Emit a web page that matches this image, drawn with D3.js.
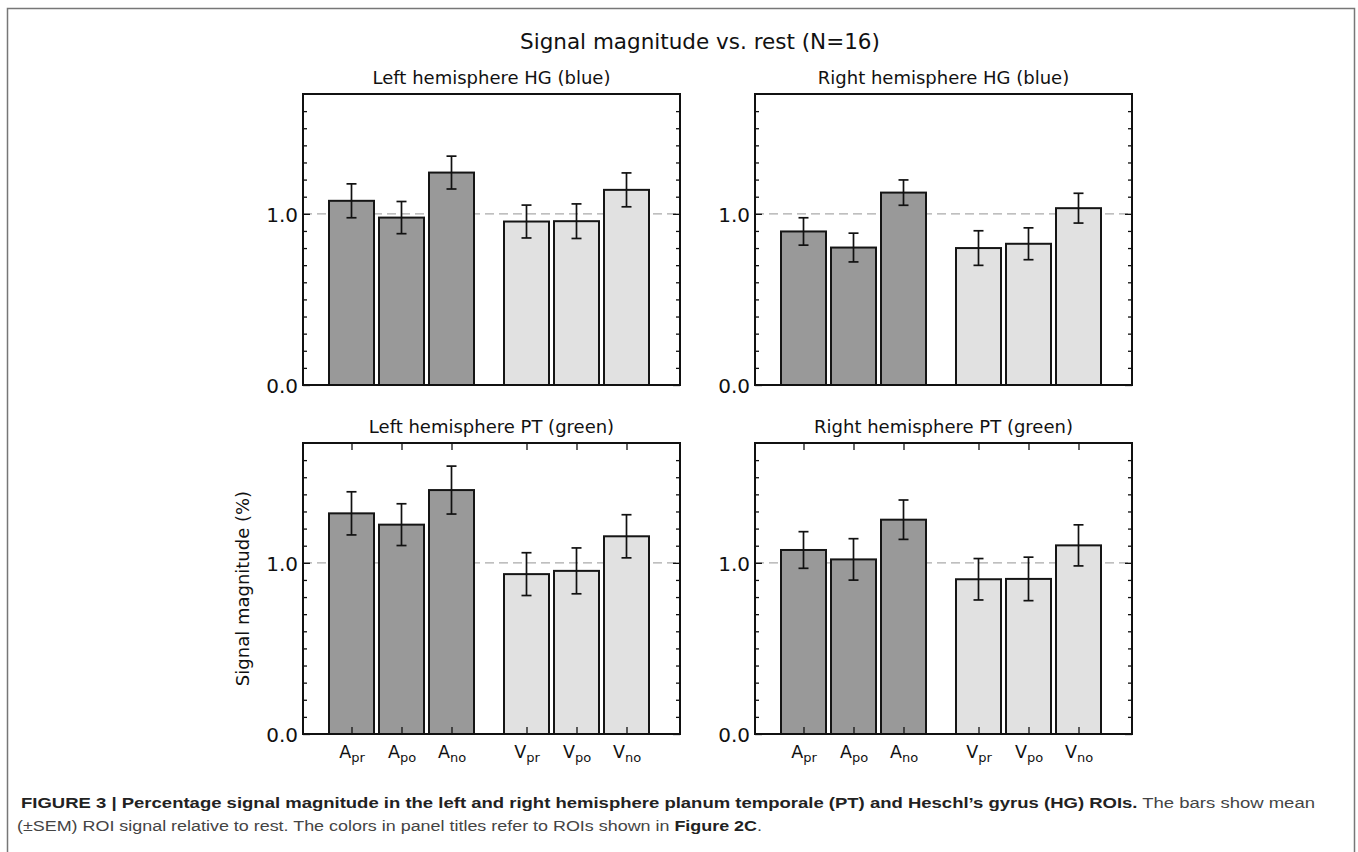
<!DOCTYPE html>
<html>
<head>
<meta charset="utf-8">
<script src="https://cdn.jsdelivr.net/npm/d3@7"></script>
<style>
  body { margin: 0; background: #fff; }
  svg { display: block; }
  .axis text { font-family: "DejaVu Sans", sans-serif; fill: #111; }
</style>
</head>
<body>
<script>
// bar categories (x positions follow the matplotlib layout: gap between A and V groups)
const modality = ["A", "A", "A", "V", "V", "V"];
const condition = ["pr", "po", "no", "pr", "po", "no"];
const barPositions = [0, 1, 2, 3.5, 4.5, 5.5];

const panelTitles = [
  "Left hemisphere HG (blue)",
  "Right hemisphere HG (blue)",
  "Left hemisphere PT (green)",
  "Right hemisphere PT (green)",
];

// mean signal (%) and SEM
const leftHG = [1.076, 0.978, 1.241, 0.955, 0.957, 1.14];
const leftHGErr = [0.099, 0.094, 0.096, 0.096, 0.101, 0.099];
const rightHG = [0.897, 0.803, 1.124, 0.8, 0.825, 1.033];
const rightHGErr = [0.08, 0.084, 0.074, 0.101, 0.093, 0.087];
const leftPT = [1.289, 1.223, 1.425, 0.934, 0.953, 1.155];
const leftPTErr = [0.126, 0.122, 0.14, 0.125, 0.134, 0.126];
const rightPT = [1.075, 1.02, 1.252, 0.904, 0.906, 1.102];
const rightPTErr = [0.107, 0.121, 0.115, 0.121, 0.127, 0.12];

const yTicks = [0.0, 1.0];
const yMinorTicks = [0.1, 0.2, 0.3, 0.4, 0.5, 0.6, 0.7, 0.8, 0.9, 1.1, 1.2, 1.3, 1.4, 1.5, 1.6];
const yDomain = [0, 1.7];
const xDomain = [-0.97, 6.57];
const refLine = 1.0;

const panelMeans = [leftHG, rightHG, leftPT, rightPT];
const panelErrs = [leftHGErr, rightHGErr, leftPTErr, rightPTErr];

const darkFill = "#999999";
const lightFill = "#e1e1e1";

const colX = [303, 755];
const rowY = [94, 443];
const panelW = 377;
const panelH = 291;

const svg = d3.select("body").append("svg").attr("width", 1358).attr("height", 852);

// figure frame
svg.append("rect")
  .attr("x", 7.5).attr("y", 8.5)
  .attr("width", 1347).attr("height", 900)
  .attr("fill", "none")
  .attr("stroke", "#777")
  .attr("stroke-width", 1.5);

svg.append("text")
  .attr("x", 700).attr("y", 49)
  .attr("text-anchor", "middle")
  .style("font-family", "DejaVu Sans")
  .style("font-size", "21.5px")
  .attr("fill", "#111")
  .text("Signal magnitude vs. rest (N=16)");

function drawPanel(p) {
  const left = colX[p % 2];
  const top = rowY[Math.floor(p / 2)];
  const showX = p >= 2;

  const x = d3.scaleLinear().domain(xDomain).range([left, left + panelW]);
  const y = d3.scaleLinear().domain(yDomain).range([top + panelH, top]);

  const g = svg.append("g");
  const means = panelMeans[p];
  const errs = panelErrs[p];

  g.append("text")
    .attr("x", left + panelW / 2)
    .attr("y", top - 10)
    .attr("text-anchor", "middle")
    .style("font-family", "DejaVu Sans")
    .style("font-size", "18px")
    .attr("fill", "#111")
    .text(panelTitles[p]);

  // dashed reference line at 1.0 (behind bars)
  g.append("line")
    .attr("x1", x(xDomain[0])).attr("x2", x(xDomain[1]))
    .attr("y1", y(refLine)).attr("y2", y(refLine))
    .attr("stroke", "#aaa")
    .attr("stroke-width", 1.3)
    .attr("stroke-dasharray", "9,5");

  const data = means.map((m, i) => ({ pos: barPositions[i], mean: m, err: errs[i], mod: modality[i] }));

  g.selectAll(".bar")
    .data(data)
    .enter()
    .append("rect")
    .attr("class", "bar")
    .attr("x", (d) => x(d.pos - 0.45))
    .attr("width", (d) => x(d.pos + 0.45) - x(d.pos - 0.45))
    .attr("y", (d) => y(d.mean))
    .attr("height", (d) => y(0) - y(d.mean))
    .attr("fill", (d) => (d.mod == "A" ? darkFill : lightFill))
    .attr("stroke", "#151515")
    .attr("stroke-width", 2);

  // error bars
  const eb = g.selectAll(".err").data(data).enter().append("g").attr("class", "err")
    .attr("stroke", "#111").attr("stroke-width", 1.7);
  eb.append("line")
    .attr("x1", (d) => x(d.pos)).attr("x2", (d) => x(d.pos))
    .attr("y1", (d) => y(d.mean + d.err)).attr("y2", (d) => y(d.mean - d.err));
  eb.append("line")
    .attr("x1", (d) => x(d.pos) - 5).attr("x2", (d) => x(d.pos) + 5)
    .attr("y1", (d) => y(d.mean + d.err)).attr("y2", (d) => y(d.mean + d.err));
  eb.append("line")
    .attr("x1", (d) => x(d.pos) - 5).attr("x2", (d) => x(d.pos) + 5)
    .attr("y1", (d) => y(d.mean - d.err)).attr("y2", (d) => y(d.mean - d.err));

  // y axes, ticks pointing inward
  const yAxis = g.append("g").attr("class", "axis")
    .attr("transform", `translate(${left},0)`)
    .call(d3.axisLeft(y).tickValues(yTicks).tickFormat(d3.format(".1f")).tickSize(-7).tickPadding(5));
  yAxis.selectAll("text").style("font-size", "20px").attr("dy", "0.36em");
  g.append("g").attr("class", "axis")
    .attr("transform", `translate(${left},0)`)
    .call(d3.axisLeft(y).tickValues(yMinorTicks).tickFormat("").tickSize(-4));
  g.append("g").attr("class", "axis")
    .attr("transform", `translate(${left + panelW},0)`)
    .call(d3.axisRight(y).tickValues(yTicks).tickFormat("").tickSize(-7));
  g.append("g").attr("class", "axis")
    .attr("transform", `translate(${left + panelW},0)`)
    .call(d3.axisRight(y).tickValues(yMinorTicks).tickFormat("").tickSize(-4));

  if (showX) {
    const xAxis = g.append("g").attr("class", "axis")
      .attr("transform", `translate(0,${top + panelH})`)
      .call(d3.axisBottom(x).tickValues(barPositions).tickFormat("").tickSize(-7).tickPadding(8));
    xAxis.selectAll(".tick text")
      .attr("y", 24)
      .attr("dy", null)
      .style("font-size", "17.5px")
      .each(function (d, i) {
        const t = d3.select(this);
        t.text(modality[i]);
        t.append("tspan").attr("dy", "0.3em").style("font-size", "13px").text(condition[i]);
      });
    g.append("g").attr("class", "axis")
      .attr("transform", `translate(0,${top})`)
      .call(d3.axisTop(x).tickValues(barPositions).tickFormat("").tickSize(-7));
  }

  g.selectAll(".axis .domain").remove();
  g.selectAll(".axis line").attr("stroke", "#111").attr("stroke-width", 1.3);

  // plot frame
  g.append("rect")
    .attr("x", left).attr("y", top)
    .attr("width", panelW).attr("height", panelH)
    .attr("fill", "none")
    .attr("stroke", "#111")
    .attr("stroke-width", 2);
}

d3.range(4).forEach(drawPanel);

svg.append("text")
  .attr("transform", `translate(249,${rowY[1] + panelH / 2}) rotate(-90)`)
  .attr("text-anchor", "middle")
  .style("font-family", "DejaVu Sans")
  .style("font-size", "18px")
  .attr("fill", "#111")
  .text("Signal magnitude (%)");

// caption
const cap1 = svg.append("text")
  .attr("x", 21).attr("y", 808)
  .style("font-family", "Liberation Sans, Arial, sans-serif")
  .style("font-size", "15.5px")
  .attr("textLength", 1294)
  .attr("lengthAdjust", "spacingAndGlyphs");
cap1.append("tspan").style("font-weight", "bold").attr("fill", "#222")
  .text("FIGURE 3 | Percentage signal magnitude in the left and right hemisphere planum temporale (PT) and Heschl\u2019s gyrus (HG) ROIs.");
cap1.append("tspan").attr("fill", "#444").text(" The bars show mean");

const cap2 = svg.append("text")
  .attr("x", 17).attr("y", 831)
  .style("font-family", "Liberation Sans, Arial, sans-serif")
  .style("font-size", "15.5px")
  .attr("textLength", 745)
  .attr("lengthAdjust", "spacingAndGlyphs");
cap2.append("tspan").attr("fill", "#444")
  .text("(\u00b1SEM) ROI signal relative to rest. The colors in panel titles refer to ROIs shown in ");
cap2.append("tspan").style("font-weight", "bold").attr("fill", "#222").text("Figure 2C");
cap2.append("tspan").attr("fill", "#444").text(".");
</script>
</body>
</html>
